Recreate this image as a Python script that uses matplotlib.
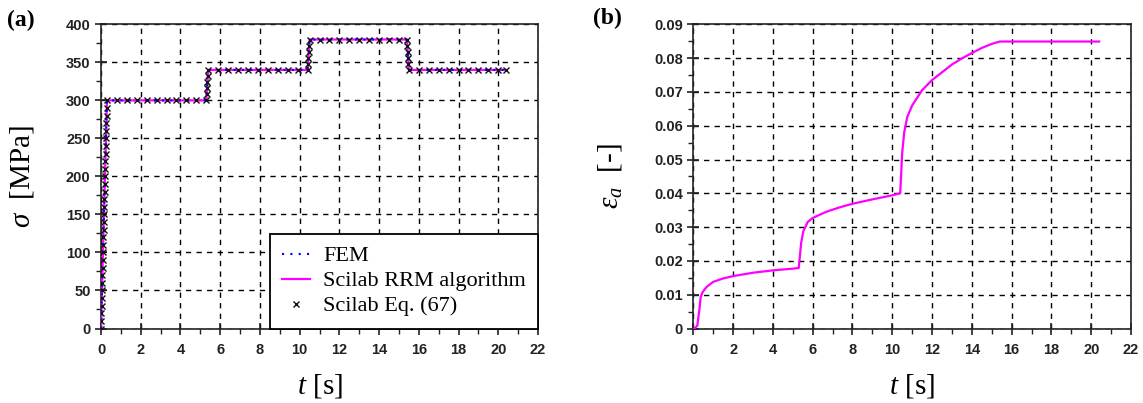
import matplotlib
matplotlib.use('Agg')
import matplotlib.pyplot as plt
from matplotlib.ticker import MultipleLocator

# 글꼴 설정
plt.rcParams['font.family'] = ['Liberation Sans', 'DejaVu Sans']
plt.rcParams['mathtext.fontset'] = 'custom'
plt.rcParams['mathtext.rm'] = 'Liberation Serif'
plt.rcParams['mathtext.it'] = 'Liberation Serif:italic'

# (a) 응력 이력: FEM / Scilab RRM 계단 하중
t_step = [0.0, 0.3, 5.3, 5.4, 10.4, 10.5, 15.4, 15.5, 20.4]
sig_step = [0, 300, 300, 340, 340, 380, 380, 340, 340]

# (a) Scilab Eq. (67) 마커 (구간별)
eq_t_ramp1 = [0.00, 0.01, 0.02, 0.03, 0.04, 0.05, 0.06, 0.07, 0.08, 0.09, 0.10,
              0.11, 0.12, 0.13, 0.14, 0.15, 0.16, 0.17, 0.18, 0.19, 0.20,
              0.21, 0.22, 0.23, 0.24, 0.25, 0.26, 0.27, 0.28, 0.29, 0.30]
eq_s_ramp1 = [0, 10, 20, 30, 40, 50, 60, 70, 80, 90, 100,
              110, 120, 130, 140, 150, 160, 170, 180, 190, 200,
              210, 220, 230, 240, 250, 260, 270, 280, 290, 300]
eq_t_hold1 = [0.8, 1.3, 1.8, 2.3, 2.8, 3.3, 3.8, 4.3, 4.8, 5.3]
eq_s_hold1 = [300, 300, 300, 300, 300, 300, 300, 300, 300, 300]
eq_t_ramp2 = [5.32, 5.34, 5.36, 5.38, 5.40]
eq_s_ramp2 = [308, 316, 324, 332, 340]
eq_t_hold2 = [5.9, 6.4, 6.9, 7.4, 7.9, 8.4, 8.9, 9.4, 9.9, 10.4]
eq_s_hold2 = [340, 340, 340, 340, 340, 340, 340, 340, 340, 340]
eq_t_ramp3 = [10.42, 10.44, 10.46, 10.48, 10.50]
eq_s_ramp3 = [348, 356, 364, 372, 380]
eq_t_hold3 = [11.0, 11.5, 12.0, 12.5, 13.0, 13.5, 14.0, 14.5, 15.0, 15.4]
eq_s_hold3 = [380, 380, 380, 380, 380, 380, 380, 380, 380, 380]
eq_t_ramp4 = [15.42, 15.44, 15.46, 15.48, 15.50]
eq_s_ramp4 = [372, 364, 356, 348, 340]
eq_t_hold4 = [16.0, 16.5, 17.0, 17.5, 18.0, 18.5, 19.0, 19.5, 20.0, 20.4]
eq_s_hold4 = [340, 340, 340, 340, 340, 340, 340, 340, 340, 340]

eq_t = eq_t_ramp1 + eq_t_hold1 + eq_t_ramp2 + eq_t_hold2 + eq_t_ramp3 + eq_t_hold3 + eq_t_ramp4 + eq_t_hold4
eq_s = eq_s_ramp1 + eq_s_hold1 + eq_s_ramp2 + eq_s_hold2 + eq_s_ramp3 + eq_s_hold3 + eq_s_ramp4 + eq_s_hold4

# (b) 축방향 변형률
t_eps = [0.05, 0.2, 0.3, 0.37, 0.47, 0.67, 1.0, 1.5, 2.0, 3.0, 4.0, 5.0, 5.3,
         5.33, 5.42, 5.53, 5.75, 6.0, 6.67, 7.33, 8.0, 9.0, 10.0, 10.4,
         10.45, 10.5, 10.6, 10.75, 11.0, 11.5, 12.0, 12.5, 13.0, 13.5, 14.0,
         14.5, 15.0, 15.4, 20.4]
eps_a = [0.0, 0.0008, 0.0053, 0.0093, 0.0108, 0.0123, 0.0138, 0.0148, 0.0155,
         0.0165, 0.0172, 0.0177, 0.0179,
         0.0198, 0.0253, 0.0288, 0.0315, 0.0327, 0.0345, 0.0358, 0.0369,
         0.0382, 0.0394, 0.0400,
         0.046, 0.052, 0.058, 0.0625, 0.066, 0.0705, 0.0735, 0.0758, 0.0781,
         0.0799, 0.0815, 0.083, 0.0842, 0.0849, 0.0849]

W, H = 1143, 403
fig = plt.figure(figsize=(W / 100, H / 100), dpi=100)
ax1 = fig.add_axes([101 / W, 1 - 328.5 / H, 437 / W, 304.2 / H])
ax2 = fig.add_axes([693.3 / W, 1 - 328.5 / H, 437.7 / W, 304.2 / H])

grid_kw = dict(color='black', linewidth=1.0, linestyle=(0, (3.8, 3.8)))


def style_axes(ax):
    ax.set_xlim(0, 22)
    ax.xaxis.set_major_locator(MultipleLocator(2))
    ax.xaxis.set_minor_locator(MultipleLocator(1))
    for s in ax.spines.values():
        s.set_color('#222222')
        s.set_linewidth(1.2)
    ax.tick_params(which='major', direction='inout', length=9, width=1.2,
                   color='#222222', top=False, right=False)
    ax.tick_params(which='minor', direction='out', length=3.5, width=1.0,
                   color='#222222', top=False, right=False)
    ax.tick_params(axis='x', which='major', pad=6)
    ax.tick_params(axis='y', which='major', pad=3)
    for lab in ax.get_xticklabels() + ax.get_yticklabels():
        lab.set_fontweight('bold')
        lab.set_fontsize(10.5)
        lab.set_color('#222222')
    ax.grid(True, which='major', **grid_kw)
    ax.set_xlabel(r'$t$ [s]', family='Liberation Serif', fontsize=21, va='center')
    ax.xaxis.set_label_coords(0.5, -0.19)


# (a)
ax1.set_ylim(0, 400)
ax1.yaxis.set_major_locator(MultipleLocator(50))
ax1.yaxis.set_minor_locator(MultipleLocator(25))
ax1.plot(t_step, sig_step, color='#ff00ff', linewidth=1.6, label='Scilab RRM algorithm', zorder=3)
ax1.plot(t_step, sig_step, color='#0000ff', linewidth=1.5, linestyle=(0, (1, 3)), label='FEM', zorder=4)
ax1.plot(eq_t, eq_s, linestyle='none', marker='x', color='#111111', markersize=4,
         markeredgewidth=1.0, label='Scilab Eq. (67)', zorder=5)
style_axes(ax1)
ax1.set_ylabel(r'$\sigma$  [MPa]', family='Liberation Serif', fontsize=21, va='center')
ax1.yaxis.set_label_coords(-0.181, 0.5)

handles, labels = ax1.get_legend_handles_labels()
order = [1, 0, 2]
leg = ax1.legend([handles[i] for i in order], [labels[i] for i in order],
                 loc='lower right', borderaxespad=0, fancybox=False,
                 edgecolor='black', framealpha=1,
                 prop={'family': 'Liberation Serif', 'size': 16},
                 handlelength=1.25, handletextpad=0.6, borderpad=0.55,
                 labelspacing=0.2)
leg.get_frame().set_linewidth(1.3)

# (b)
ax2.set_ylim(0, 0.09)
ax2.yaxis.set_major_locator(MultipleLocator(0.01))
ax2.yaxis.set_minor_locator(MultipleLocator(0.005))
ax2.yaxis.set_major_formatter(lambda v, p: '0' if abs(v) < 1e-9 else f'{v:.2f}')
ax2.plot(t_eps, eps_a, color='#ff00ff', linewidth=1.6, zorder=3)
style_axes(ax2)
ax2.set_ylabel(r'$\varepsilon_a$  [-]', family='Liberation Serif', fontsize=21, va='center')
ax2.yaxis.set_label_coords(-0.19, 0.5)

fig.text(7 / W, 1 - 20 / H, '(a)', family='Liberation Serif', fontweight='bold',
         fontsize=17, va='center', ha='left')
fig.text(593 / W, 1 - 18 / H, '(b)', family='Liberation Serif', fontweight='bold',
         fontsize=17, va='center', ha='left')

fig.savefig('out.png', dpi=100)
